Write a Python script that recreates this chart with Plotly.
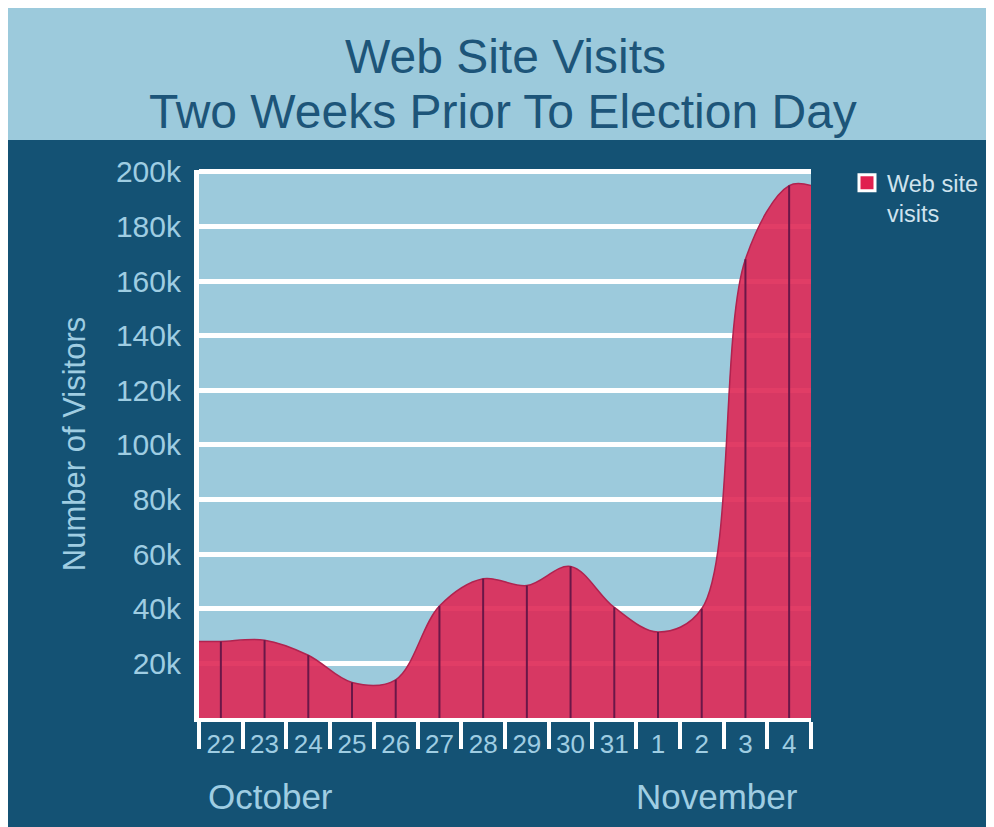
import plotly.graph_objects as go

# ---- data ----
days = ["22", "23", "24", "25", "26", "27", "28", "29", "30", "31", "1", "2", "3", "4"]
visits = [28000, 28500, 23000, 13000, 14000, 41000, 51000, 48500, 55500, 40500, 31500, 40000, 168000, 195000]
y_tick_vals = [20000, 40000, 60000, 80000, 100000, 120000, 140000, 160000, 180000, 200000]
y_tick_text = ["20k", "40k", "60k", "80k", "100k", "120k", "140k", "160k", "180k", "200k"]
months = ["October", "November"]
series_name = "Web site<br>visits"

# ---- colours ----
NAVY = "#145274"
LIGHT = "#9ccadc"
TXT = "#9fcde2"
TITLE_C = "#1d5579"
RED_FILL = "rgba(222,40,85,0.9)"
RED_EDGE = "#b0234f"
STEM = "#6a1748"
FONT = "Liberation Sans, Arial, sans-serif"

W, H = 994, 827
L, R, T, B = 191, 191, 162, 117
pw, ph = W - L - R, H - T - B


def px_x(x):
    return (x - L) / pw


def px_y(y):
    return (H - B - y) / ph


n = len(days)
xs = list(range(n))
# area extended to the plot edges (flat at both ends)
area_x = [-0.5] + xs + [n - 0.5]
area_y = [visits[0]] + visits + [visits[-1]]

stem_x, stem_y = [], []
for i, v in zip(xs, visits):
    stem_x += [i, i, None]
    stem_y += [0, v, None]

fig = go.Figure()
fig.add_trace(go.Scatter(
    x=area_x, y=area_y, mode="lines", fill="tozeroy",
    fillcolor=RED_FILL, line=dict(color=RED_EDGE, width=1.5, shape="spline", smoothing=1),
    showlegend=False, hoverinfo="skip"))
fig.add_trace(go.Scatter(
    x=stem_x, y=stem_y, mode="lines", line=dict(color=STEM, width=2),
    showlegend=False, hoverinfo="skip"))
fig.add_trace(go.Scatter(
    x=[None], y=[None], mode="markers", name=series_name,
    marker=dict(symbol="square", size=16, color="#e0204f", line=dict(color="white", width=3))))

shapes = [
    # title band
    dict(type="rect", xref="paper", yref="paper", x0=px_x(0), x1=px_x(W), y0=px_y(132), y1=px_y(0),
         fillcolor=LIGHT, line=dict(width=0), layer="below"),
]

annotations = [
    dict(text="Web Site Visits", xref="paper", yref="paper", x=px_x(497), y=px_y(49),
         xanchor="center", yanchor="middle", showarrow=False,
         font=dict(family=FONT, size=48, color=TITLE_C)),
    dict(text="Two Weeks Prior To Election Day", xref="paper", yref="paper", x=px_x(495), y=px_y(104),
         xanchor="center", yanchor="middle", showarrow=False,
         font=dict(family=FONT, size=48, color=TITLE_C)),
    dict(text=months[0], xref="paper", yref="paper", x=px_x(198), y=px_y(788),
         xanchor="left", yanchor="middle", showarrow=False,
         font=dict(family=FONT, size=35, color=TXT)),
    dict(text=months[1], xref="paper", yref="paper", x=px_x(792), y=px_y(788),
         xanchor="right", yanchor="middle", showarrow=False,
         font=dict(family=FONT, size=35, color=TXT)),
]

fig.update_layout(
    width=W, height=H,
    margin=dict(l=L, r=R, t=T, b=B, autoexpand=False),
    paper_bgcolor=NAVY, plot_bgcolor=LIGHT,
    font=dict(family=FONT, color=TXT),
    shapes=shapes, annotations=annotations,
    legend=dict(x=px_x(839), y=px_y(153), xanchor="left", yanchor="top", valign="top",
                bgcolor="rgba(0,0,0,0)", font=dict(size=23.5, color="#cfe3ee")),
    showlegend=True,
)
fig.update_xaxes(
    type="linear", range=[-0.5, n - 0.5], tickmode="array", tickvals=xs, ticktext=days,
    ticks="", showgrid=False, zeroline=False,
    showline=True, linecolor="white", linewidth=4,
    minor=dict(tickmode="linear", tick0=-0.5, dtick=1, ticks="outside", ticklen=27,
               tickwidth=4, tickcolor="white", showgrid=False),
    tickfont=dict(size=26, color=TXT), ticklabelstandoff=0,
)
fig.update_yaxes(
    range=[0, 200700], tickmode="array", tickvals=y_tick_vals, ticktext=y_tick_text,
    showgrid=True, gridcolor="white", gridwidth=5, zeroline=False,
    showline=True, linecolor="white", linewidth=5,
    ticks="", tickfont=dict(size=30, color=TXT), ticklabelstandoff=7,
    title=dict(text="Number of Visitors", font=dict(size=31, color=TXT), standoff=23),
)

fig.write_html("out.html")
